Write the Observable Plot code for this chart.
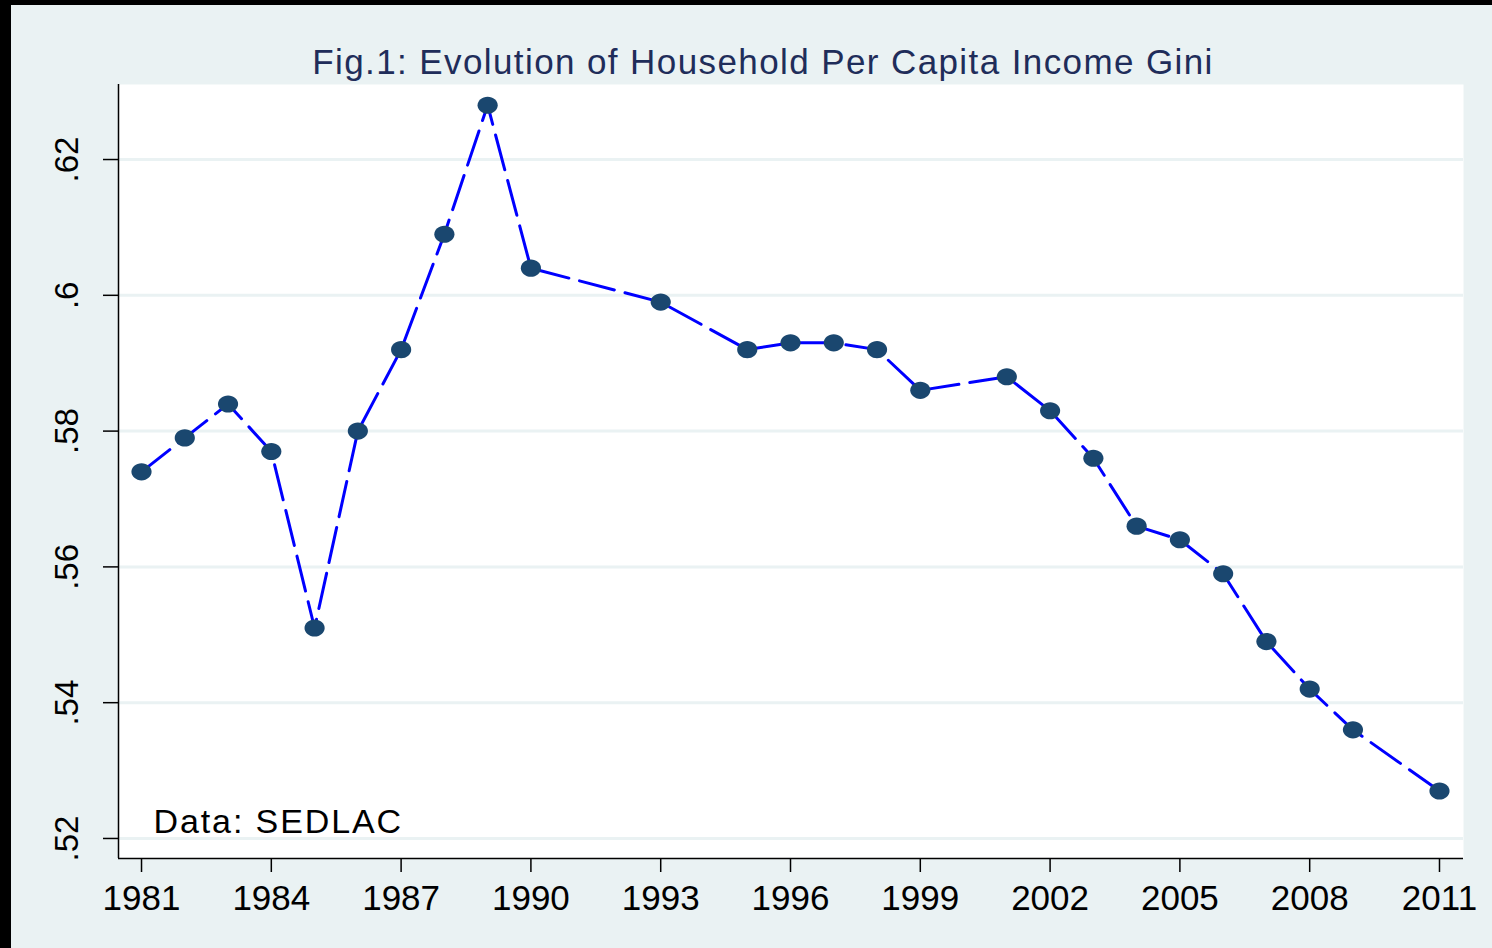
<!DOCTYPE html>
<html>
<head>
<meta charset="utf-8">
<script src="https://cdn.jsdelivr.net/npm/d3@7"></script>
<script src="https://cdn.jsdelivr.net/npm/@observablehq/plot@0.6"></script>
<style>
  html, body { margin: 0; padding: 0; background: #000; width: 1492px; height: 948px; overflow: hidden; }
  #chart { position: absolute; left: 11px; top: 5px; }
</style>
</head>
<body>
<div id="chart"></div>
<script>
const years = [1981, 1982, 1983, 1984, 1985, 1986, 1987, 1988, 1989, 1990, 1993, 1995, 1996, 1997, 1998, 1999, 2001, 2002, 2003, 2004, 2005, 2006, 2007, 2008, 2009, 2011];
const gini = [0.574, 0.579, 0.584, 0.577, 0.551, 0.580, 0.592, 0.609, 0.628, 0.604, 0.599, 0.592, 0.593, 0.593, 0.592, 0.586, 0.588, 0.583, 0.576, 0.566, 0.564, 0.559, 0.549, 0.542, 0.536, 0.527];
const xTicks = [1981, 1984, 1987, 1990, 1993, 1996, 1999, 2002, 2005, 2008, 2011];
const yTicks = [0.52, 0.54, 0.56, 0.58, 0.60, 0.62];
const yTickLabels = [".52", ".54", ".56", ".58", ".6", ".62"];
const titleText = "Fig.1: Evolution of Household Per Capita Income Gini";
const captionText = "Data: SEDLAC";

const data = years.map((y, i) => ({year: y, gini: gini[i]}));

const xDomain = [1980.468, 2011.555];
const yDomain = [0.51705, 0.63105];

// slightly wide ellipse marker
const ellipse = {
  draw(context, size) {
    const r = Math.sqrt(size / Math.PI);
    const rx = r * 1.12, ry = r * 0.95, k = 0.5523;
    context.moveTo(rx, 0);
    context.bezierCurveTo(rx, ry * k, rx * k, ry, 0, ry);
    context.bezierCurveTo(-rx * k, ry, -rx, ry * k, -rx, 0);
    context.bezierCurveTo(-rx, -ry * k, -rx * k, -ry, 0, -ry);
    context.bezierCurveTo(rx * k, -ry, rx, -ry * k, rx, 0);
    context.closePath();
  }
};

const font = "'Liberation Sans', Arial, Helvetica, sans-serif";

const chart = Plot.plot({
  width: 1481,
  height: 943,
  marginLeft: 107,
  marginRight: 29,
  marginTop: 79,
  marginBottom: 90,
  style: {background: "#eaf2f3", fontFamily: font, color: "black"},
  x: {domain: xDomain, label: null},
  y: {domain: yDomain, label: null},
  marks: [
    Plot.frame({fill: "white", stroke: null}),
    Plot.gridY(yTicks, {stroke: "#eaf2f3", strokeOpacity: 1, strokeWidth: 3}),
    Plot.ruleX([xDomain[0]], {stroke: "black", strokeWidth: 1.5}),
    Plot.ruleY([yDomain[0]], {stroke: "black", strokeWidth: 1.5}),
    Plot.axisX(xTicks, {tickSize: 14, tickPadding: 13, fontSize: 35, strokeWidth: 1.5, label: null, tickFormat: d => String(d)}),
    Plot.axisY(yTicks, {tickSize: 15, strokeWidth: 1.5, label: null, tickFormat: () => ""}),
    Plot.text(yTicks, {y: d => d, frameAnchor: "left", text: (d, i) => yTickLabels[i], rotate: -90, dx: -51, fontSize: 33, textAnchor: "middle", lineAnchor: "middle", fill: "black"}),
    Plot.line(data, {x: "year", y: "gini", stroke: "#0000ff", strokeWidth: 3, strokeDasharray: "36,11", curve: "linear"}),
    Plot.dot(data, {x: "year", y: "gini", r: 9, symbol: ellipse, fill: "#1a476f", stroke: null}),
    Plot.text([captionText], {frameAnchor: "bottom-left", text: d => d, textAnchor: "start", lineAnchor: "middle", dx: 35, dy: -36, fontSize: 34, fill: "black"}),
    Plot.text([titleText], {frameAnchor: "top", text: d => d, textAnchor: "middle", lineAnchor: "middle", dx: -28, dy: -22, fontSize: 35, fill: "#1f2d5a"})
  ]
});

// widen glyph spacing of title and caption to match the reference's wider lettering
chart.querySelectorAll("text").forEach(t => {
  if (t.textContent === titleText) t.style.letterSpacing = "1.4px";
  else if (t.textContent === captionText) t.style.letterSpacing = "1.9px";
});

document.getElementById("chart").appendChild(chart);
</script>
</body>
</html>
